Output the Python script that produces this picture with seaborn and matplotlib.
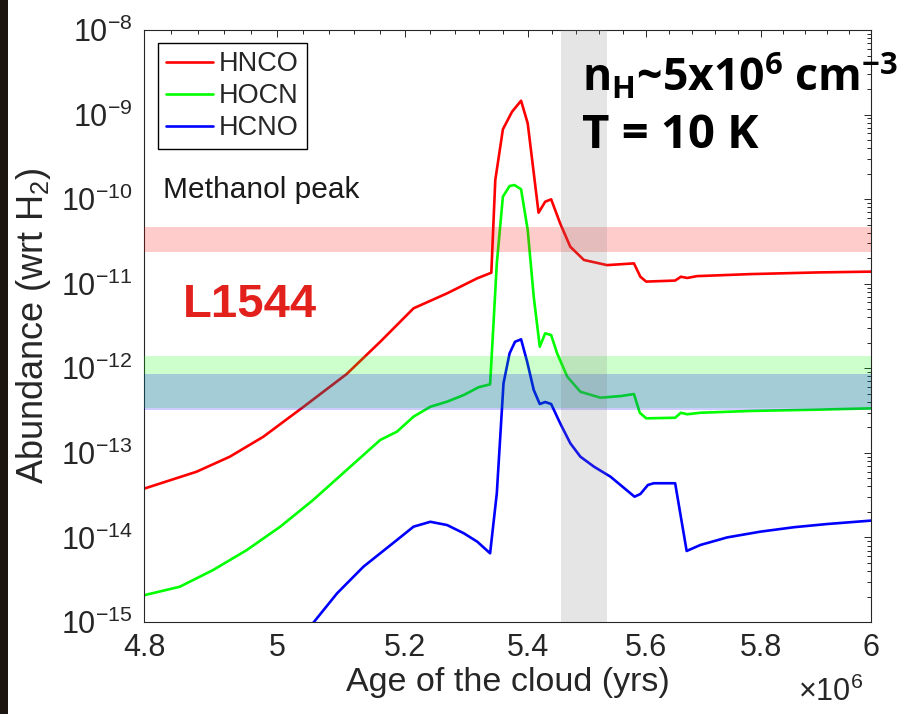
import numpy as np
import pandas as pd
import matplotlib
matplotlib.use("Agg")
import matplotlib.pyplot as plt
import matplotlib.ticker as mticker
from matplotlib.patches import Rectangle
import seaborn as sns

# Cloud age in units of 1e6 yr, abundances relative to H2
age_hnco = [4.800, 4.878, 4.928, 4.979, 5.041, 5.108, 5.161, 5.214, 5.268, 5.317,
            5.340, 5.3465, 5.359, 5.374, 5.389, 5.400, 5.418, 5.429, 5.439, 5.454,
            5.471, 5.494, 5.533, 5.579, 5.590, 5.600, 5.650, 5.660, 5.671, 5.688,
            5.782, 5.902, 6.000]
hnco = [3.77e-14, 5.98e-14, 9.0e-14, 1.55e-13, 3.51e-13, 8.55e-13, 2.06e-12, 5.12e-12, 7.70e-12, 1.16e-11,
        1.35e-11, 1.68e-10, 6.70e-10, 1.08e-9, 1.46e-9, 7.88e-10, 6.92e-11, 9.33e-11, 9.96e-11, 5.18e-11,
        2.74e-11, 1.91e-11, 1.66e-11, 1.74e-11, 1.21e-11, 1.06e-11, 1.09e-11, 1.21e-11, 1.17e-11, 1.23e-11,
        1.30e-11, 1.36e-11, 1.39e-11]

age_hocn = [4.800, 4.853, 4.903, 4.954, 5.005, 5.056, 5.108, 5.161, 5.1875, 5.214,
            5.241, 5.268, 5.295, 5.319, 5.338, 5.343, 5.349, 5.359, 5.370, 5.378,
            5.389, 5.400, 5.410, 5.420, 5.429, 5.439, 5.449, 5.466, 5.488, 5.522,
            5.557, 5.579, 5.589, 5.600, 5.650, 5.660, 5.671, 5.694, 5.782, 5.902,
            6.000]
hocn = [2.07e-15, 2.61e-15, 4.12e-15, 7.10e-15, 1.34e-14, 2.78e-14, 6.27e-14, 1.42e-13, 1.78e-13, 2.68e-13,
        3.51e-13, 4.03e-13, 4.83e-13, 5.96e-13, 6.47e-13, 2.84e-12, 1.74e-11, 1.07e-10, 1.43e-10, 1.47e-10,
        1.31e-10, 4.32e-11, 7.02e-12, 1.80e-12, 2.59e-12, 2.47e-12, 1.50e-12, 7.95e-13, 5.28e-13, 4.49e-13,
        4.70e-13, 4.96e-13, 2.98e-13, 2.56e-13, 2.60e-13, 2.98e-13, 2.86e-13, 2.98e-13, 3.13e-13, 3.24e-13,
        3.36e-13]

age_hcno = [5.020, 5.057, 5.093, 5.1345, 5.161, 5.1875, 5.214, 5.241, 5.268, 5.295,
            5.317, 5.338, 5.349, 5.360, 5.370, 5.379, 5.389, 5.399, 5.410, 5.420,
            5.429, 5.439, 5.454, 5.471, 5.488, 5.511, 5.539, 5.580, 5.590, 5.603,
            5.613, 5.650, 5.670, 5.694, 5.741, 5.800, 5.860, 5.920, 6.000]
hcno = [4.5e-16, 1.0e-15, 2.18e-15, 4.51e-15, 6.49e-15, 9.32e-15, 1.34e-14, 1.53e-14, 1.40e-14, 1.12e-14,
        8.90e-15, 6.49e-15, 3.32e-14, 6.64e-13, 1.50e-12, 2.06e-12, 2.20e-12, 1.20e-12, 5.54e-13, 3.78e-13,
        3.99e-13, 3.78e-13, 2.24e-13, 1.30e-13, 9.01e-14, 6.86e-14, 5.22e-14, 3.03e-14, 3.26e-14, 4.17e-14,
        4.37e-14, 4.37e-14, 6.91e-15, 8.14e-15, 1.00e-14, 1.17e-14, 1.32e-14, 1.44e-14, 1.58e-14]

species = ["HNCO", "HOCN", "HCNO"]
colors = {"HNCO": "#ff0000", "HOCN": "#00ff00", "HCNO": "#0000ff"}

# Observed L1544 abundance ranges
band_hnco = (2.35e-11, 4.7e-11)
band_hocn = (3.4e-13, 1.4e-12)
band_hcno = (3.2e-13, 8.6e-13)
# Age window of the methanol peak (1e6 yr)
methanol_window = (5.456, 5.533)

xticks = [4.8, 5.0, 5.2, 5.4, 5.6, 5.8, 6.0]
xticklabels = ["4.8", "5", "5.2", "5.4", "5.6", "5.8", "6"]

sns.set_style("white")
plt.rcParams["font.family"] = ["Liberation Sans", "DejaVu Sans"]
plt.rcParams["mathtext.fontset"] = "custom"
plt.rcParams["mathtext.rm"] = "Liberation Sans"
plt.rcParams["mathtext.it"] = "Liberation Sans:italic"
plt.rcParams["mathtext.bf"] = "Liberation Sans:bold"

frames = []
for name, ages, vals in [("HNCO", age_hnco, hnco), ("HOCN", age_hocn, hocn), ("HCNO", age_hcno, hcno)]:
    frames.append(pd.DataFrame({"age": np.array(ages) * 1e6, "abundance": vals, "species": name}))
df = pd.concat(frames, ignore_index=True)

fig = plt.figure(figsize=(9.03, 7.14), dpi=100)
ax = fig.add_axes([0.1595, 0.1289, 0.805, 0.829])

for name in species:
    sub = df[df["species"] == name]
    sns.lineplot(data=sub, x="age", y="abundance", color=colors[name], lw=1.9,
                 estimator=None, sort=False, ax=ax, label=name)

ax.set_xscale("log")
ax.set_yscale("log")
ax.set_xlim(4.8e6, 6.0e6)
ax.set_ylim(1e-15, 1e-8)

# shaded observational bands and the methanol-peak window, drawn over the curves
ax.axhspan(*band_hnco, color="red", alpha=0.2, lw=0, zorder=3)
ax.axhspan(*band_hocn, color="lime", alpha=0.2, lw=0, zorder=3)
ax.axhspan(*band_hcno, color="blue", alpha=0.2, lw=0, zorder=3)
ax.axvspan(methanol_window[0] * 1e6, methanol_window[1] * 1e6, color="#808080", alpha=0.2, lw=0, zorder=3)

ax.xaxis.set_major_locator(mticker.FixedLocator([v * 1e6 for v in xticks]))
ax.xaxis.set_major_formatter(mticker.FixedFormatter(xticklabels))
minor_x = [round(4.8 + 0.04 * i, 2) for i in range(31)]
minor_x = [v * 1e6 for v in minor_x if all(abs(v - t) > 1e-6 for t in xticks)]
ax.xaxis.set_minor_locator(mticker.FixedLocator(minor_x))
ax.xaxis.set_minor_formatter(mticker.NullFormatter())
ax.yaxis.set_major_locator(mticker.LogLocator(base=10, numticks=20))
ax.yaxis.set_minor_locator(mticker.LogLocator(base=10, subs=np.arange(2, 10), numticks=20))
ax.yaxis.set_minor_formatter(mticker.NullFormatter())
ax.xaxis.get_offset_text().set_visible(False)
ax.yaxis.get_offset_text().set_visible(False)

edge = "#262626"
for s in ax.spines.values():
    s.set_visible(True)
    s.set_color(edge)
    s.set_linewidth(0.8)
ax.tick_params(which="both", direction="in", top=True, right=True, color=edge,
               labelcolor=edge, width=0.7)
ax.tick_params(which="major", length=5, labelsize=22)
ax.tick_params(axis="x", which="major", pad=8)
ax.tick_params(axis="y", which="major", pad=8)
ax.tick_params(which="minor", length=3)

ax.set_xlabel("Age of the cloud (yrs)", fontsize=24.5, color=edge, labelpad=3)
ax.set_ylabel(r"Abundance (wrt H$_\mathregular{2}$)", fontsize=26, color=edge, labelpad=6)
ax.text(0.90, -0.133, r"$\times\mathregular{10^{6}}$", transform=ax.transAxes,
        fontsize=22, color=edge, ha="left", va="baseline")

ax.legend(loc="upper left", bbox_to_anchor=(0.019, 0.978), borderaxespad=0,
          frameon=True, fancybox=False, edgecolor="black", framealpha=1,
          fontsize=19.5, handlelength=1.75, handletextpad=0.2, labelspacing=0.22,
          borderpad=0.3)
ax.get_legend().get_frame().set_linewidth(1.0)

ax.text(0.0536, 0.515, "L1544", transform=ax.transAxes, fontsize=34,
        fontweight="bold", color="#e3211c", ha="left", va="baseline")
ax.text(0.026, 0.716, "Methanol peak", transform=ax.transAxes, fontsize=21.5,
        color="#1a1a1a", ha="left", va="baseline")
ax.text(0.6025, 0.895, r"n$_\mathregular{H}$~5x10$^\mathregular{6}$ cm$^\mathregular{-3}$",
        transform=ax.transAxes, fontsize=32, fontweight="bold", family="Open Sans",
        color="black", ha="left", va="baseline")
ax.text(0.6025, 0.80, "T = 10 K", transform=ax.transAxes, fontsize=34,
        fontweight="bold", family="Open Sans", color="black", ha="left", va="baseline")

# dark strip along the left edge of the slide
fig.patches.append(Rectangle((0, 0), 8 / 903, 1, transform=fig.transFigure,
                             facecolor="#1c140e", edgecolor="none", zorder=-1))

fig.savefig("out.png", dpi=100)
